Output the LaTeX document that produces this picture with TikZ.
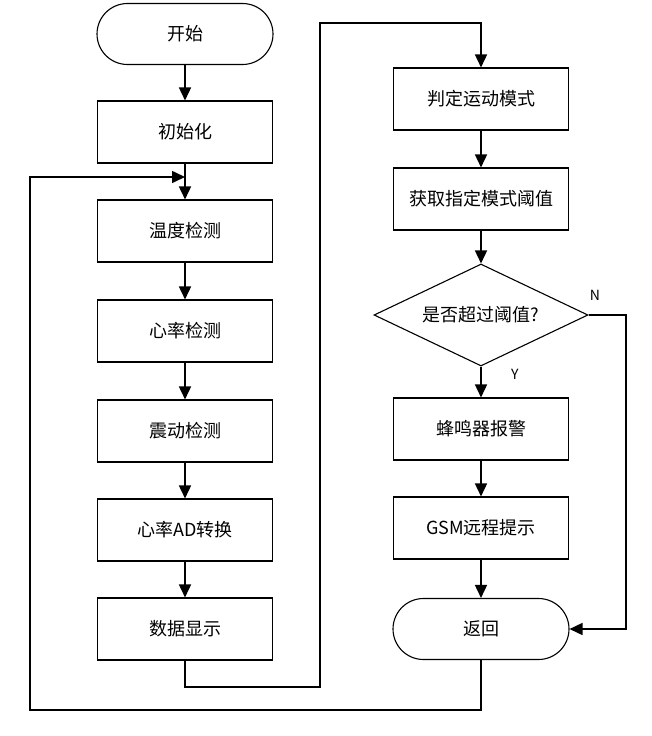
\documentclass[tikz,border=0pt]{standalone}
\usepackage{fontspec}
\setmainfont{Noto Sans CJK SC}
\usetikzlibrary{arrows.meta, shapes.geometric, shapes.misc}

\tikzset{
  stepbox/.style={draw, line width=1.1pt, minimum width=175pt, minimum height=62pt, inner sep=0pt, font=\fontsize{18}{21}\selectfont},
  termbox/.style={draw, line width=1.1pt, rounded rectangle, minimum width=176pt, minimum height=61pt, inner sep=0pt, font=\fontsize{18}{21}\selectfont},
  testbox/.style={draw, line width=1.1pt, diamond, aspect=2.1, minimum width=214pt, minimum height=102pt, inner sep=0pt, font=\fontsize{18}{21}\selectfont},
  flow/.style={line width=1.6pt, -{Triangle[width=12pt,length=13pt]}},
  tag/.style={font=\fontsize{14}{16}\selectfont}
}

\begin{document}
\begin{tikzpicture}[x=1pt, y=-1pt]

    \useasboundingbox (0,0) rectangle (651,736);

    % columna izquierda
    \node [termbox] (start) at (185,34) {开始};
    \node [stepbox] (init) at (185,132) {初始化};
    \node [stepbox] (temp) at (185,231) {温度检测};
    \node [stepbox] (heart) at (185,331) {心率检测};
    \node [stepbox] (shake) at (185,431) {震动检测};
    \node [stepbox] (adconv) at (185,530) {心率AD转换};
    \node [stepbox] (disp) at (185,629) {数据显示};

    % columna derecha
    \node [stepbox] (judge) at (481,99) {判定运动模式};
    \node [stepbox] (thresh) at (481,199) {获取指定模式阈值};
    \node [testbox] (check) at (481,315) {是否超过阈值?};
    \node [stepbox] (buzz) at (481,429) {蜂鸣器报警};
    \node [stepbox] (gsm) at (481,528) {GSM远程提示};
    \node [termbox] (ret) at (481,629) {返回};

    \coordinate (joinpt) at (185,177);

    % flechas
    \draw [flow] (start) -- (init);
    \draw [flow] (init) -- (temp);
    \draw [flow] (temp) -- (heart);
    \draw [flow] (heart) -- (shake);
    \draw [flow] (shake) -- (adconv);
    \draw [flow] (adconv) -- (disp);
    \draw [flow] (disp.south) -- (185,687) -- (320,687) -- (320,23) -- (481,23) -- (judge.north);
    \draw [flow] (judge) -- (thresh);
    \draw [flow] (thresh) -- (check);
    \draw [flow] (check.south) -- node [tag, pos=0.25, right=26pt] {Y} (buzz);
    \draw [flow] (buzz) -- (gsm);
    \draw [flow] (gsm) -- (ret);
    \draw [flow] (check.east) -- (626,315) |- (ret.east);
    \node [tag] (nlabel) at (595,295) {N};
    \draw [flow] (ret.south) -- (481,710) -- (30,710) -- (30,177) -- (joinpt);

\end{tikzpicture}
\end{document}
